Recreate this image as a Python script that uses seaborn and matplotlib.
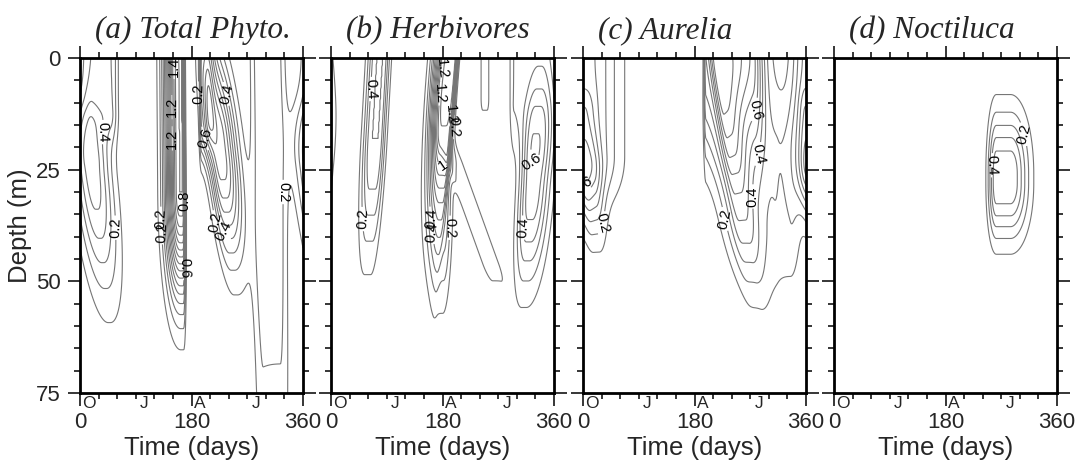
import numpy as np
import matplotlib
matplotlib.use("Agg")
import matplotlib.pyplot as plt
import matplotlib.transforms as mtransforms
from matplotlib.ticker import MultipleLocator, FixedLocator
import seaborn as sns

# ---------------------------------------------------------------------------
# Seasonal depth-time sections (concentration, arbitrary units).
# Each section is built from a few patches; every patch is
# (peak, day_start, day_end, rise_days, decay_days,
#  z_top, z_bottom, spread_up_m, spread_down_m,
#  start_tilt_days_per_m, end_tilt_days_per_m)
# ---------------------------------------------------------------------------
phyto_patches = [
    (0.55, 18, 22, 20, 20, 24, 26, 8, 18, 0.8, 0.8),      # winter subsurface maximum
    (0.30, 20, 50, 15, 8, 0, 12, 1, 5, 0.0, 0.0),         # winter mixed layer
    (1.60, 160, 165, 15, 2.5, 0, 30, 1, 15, 0.05, 0.05),  # spring bloom
    (0.45, 196, 205, 2, 8, 0, 14, 1, 6, 0.0, 0.0),        # surface pulse
    (0.85, 222, 228, 12, 18, 18, 22, 14, 15, 0.8, 0.8),   # subsurface maximum
    (0.26, 290, 318, 10, 10, 0, 25, 1, 60, 0.1, 0.1),     # summer background
]
herbivore_patches = [
    (0.50, 70, 80, 10, 8, 0, 18, 1, 17, -0.4, -0.4),
    (1.30, 188, 200, 14, 3.5, 0, 0, 1, 20, -0.6, -0.6),
    (0.35, 175, 185, 10, 8, 20, 35, 10, 14, -0.15, -0.15),
    (0.16, 222, 236, 6, 6, 24, 46, 4, 4, 2.6, 2.6),
    (0.15, 245, 252, 3, 3, 0, 9, 1, 3, 0.0, 0.0),
    (0.55, 322, 330, 12, 17, 24, 30, 12, 14, -0.5, -0.5),
    (0.20, 295, 340, 5, 15, 0, 10, 1, 8, 0.0, 0.0),
]
aurelia_patches = [
    (0.42, 0, 8, 15, 35, 0, 22, 1, 8, 0.0, 0.0),
    (0.15, 0, 3, 8, 10, 12, 24, 4, 6, 0.0, 0.0),
    (0.25, 10, 20, 10, 10, 28, 32, 8, 8, 0.5, 0.5),
    (0.50, 198, 220, 2, 42, 0, 0, 1, 14, 0.0, 0.0),
    (0.55, 215, 272, 8, 14, 0, 0, 1, 22, 1.0, 0.3),
    (0.35, 245, 255, 20, 15, 25, 35, 12, 12, 1.2, 1.2),
    (0.18, 315, 335, 15, 12, 22, 38, 10, 10, 0.0, 0.0),
]
noctiluca_patches = [
    (0.58, 262, 285, 9, 20, 26, 28, 9.5, 8.5, 0.0, 0.0),
]

panel_titles = ["(a) Total Phyto.", "(b) Herbivores", "(c) Aurelia", "(d) Noctiluca"]
panel_patches = [phyto_patches, herbivore_patches, aurelia_patches, noctiluca_patches]

# where the contour values are written (day, depth)
phyto_labels = [(24, 16.5), (54, 38), (150, 2), (150, 11), (150, 18), (169, 32),
                (169, 47), (182, 8), (131, 36), (133, 39), (202, 18), (237, 8),
                (210, 37), (237, 38.5), (318, 30)]
herbivore_labels = [(71, 7), (60, 36), (180, 2.5), (182, 8), (185, 12.5), (204, 15.5),
                    (181, 24), (190, 38), (160, 36), (161, 39), (323, 24), (306, 38)]
aurelia_labels = [(5, 27), (32, 37), (279, 11.6), (300, 22), (275, 31), (230, 36)]
noctiluca_labels = [(308, 17), (252, 24)]
panel_labels = [phyto_labels, herbivore_labels, aurelia_labels, noctiluca_labels]

contour_levels = np.round(np.arange(0.1, 1.65, 0.1), 1)
labelled_levels = contour_levels[1::2]
plain_levels = contour_levels[0::2]
day_ticks = [0, 180, 360]
depth_ticks = [0, 25, 50, 75]
month_letters = ["O", "J", "A", "J"]
month_days = [14, 104, 194, 284]

days = np.arange(0, 360.5, 1.0)
depths = np.arange(0, 75.25, 0.5)


def build_section(patches):
    T, Z = np.meshgrid(days, depths)
    F = np.zeros_like(T)
    for peak, t0, t1, tl, tr, z0, z1, zu, zd, k0, k1 in patches:
        zmid = 0.5 * (z0 + z1)
        zprof = np.where(Z < z0, np.exp(-0.5 * ((Z - z0) / zu) ** 2),
                         np.where(Z > z1, np.exp(-0.5 * ((Z - z1) / zd) ** 2), 1.0))
        start = t0 + k0 * (Z - zmid)
        end = t1 + k1 * (Z - zmid)
        for wrap in (-360.0, 0.0, 360.0):
            tt = T + wrap
            tprof = np.where(tt < start, np.exp(-0.5 * ((tt - start) / tl) ** 2),
                             np.where(tt > end, np.exp(-0.5 * ((tt - end) / tr) ** 2), 1.0))
            F += peak * tprof * zprof
    return F


sns.set_style("ticks")
plt.rcParams["font.family"] = ["Liberation Sans", "DejaVu Sans"]

W, H = 1079, 463
fig = plt.figure(figsize=(W / 100, H / 100), dpi=100, facecolor="white")

lefts = [80, 331, 583, 834]
ax_w, ax_top, ax_bot = 223, 58, 393
line_kw = dict(colors="#767676", linewidths=0.8)

for i, (title, patches, labpos) in enumerate(zip(panel_titles, panel_patches, panel_labels)):
    ax = fig.add_axes([lefts[i] / W, (H - ax_bot) / H, ax_w / W, (ax_bot - ax_top) / H])
    F = build_section(patches)
    ax.contour(days, depths, F, levels=plain_levels, **line_kw)
    cs = ax.contour(days, depths, F, levels=labelled_levels, **line_kw)
    ax.clabel(cs, fmt=lambda v: f"{v:g}", fontsize=10.5, inline=True,
              inline_spacing=2, colors="black", manual=labpos)

    ax.set_xlim(0, 360)
    ax.set_ylim(75, 0)
    ax.xaxis.set_major_locator(FixedLocator(day_ticks))
    ax.xaxis.set_minor_locator(MultipleLocator(30))
    ax.yaxis.set_major_locator(FixedLocator(depth_ticks))
    ax.yaxis.set_minor_locator(MultipleLocator(5))
    ax.tick_params(which="both", direction="out", top=True, right=True,
                   bottom=True, left=True, width=1.1, color="black")
    ax.tick_params(which="major", length=9, labelsize=16, pad=5)
    ax.tick_params(which="minor", length=4.5)
    ax.tick_params(axis="y", labelleft=(i == 0))
    for sp in ax.spines.values():
        sp.set_linewidth(2.0)
        sp.set_color("black")

    ax.set_xlabel("Time (days)", fontsize=18.5, labelpad=2)

    trans = mtransforms.blended_transform_factory(ax.transData, ax.transAxes)
    for d, m in zip(month_days, month_letters):
        ax.text(d, -0.01, m, transform=trans, ha="center", va="top", fontsize=12.5)

    ax.text(15 / ax_w, 1.0 + 20 / (ax_bot - ax_top), title, transform=ax.transAxes,
            ha="left", va="baseline", fontsize=22.5, fontstyle="italic",
            family=["Liberation Serif", "DejaVu Serif"])

fig.text(20 / W, 1 - (ax_top + ax_bot) / 2 / H, "Depth (m)", rotation=90,
         ha="center", va="center", fontsize=18.5)

fig.savefig("out.png", dpi=100, facecolor="white")
